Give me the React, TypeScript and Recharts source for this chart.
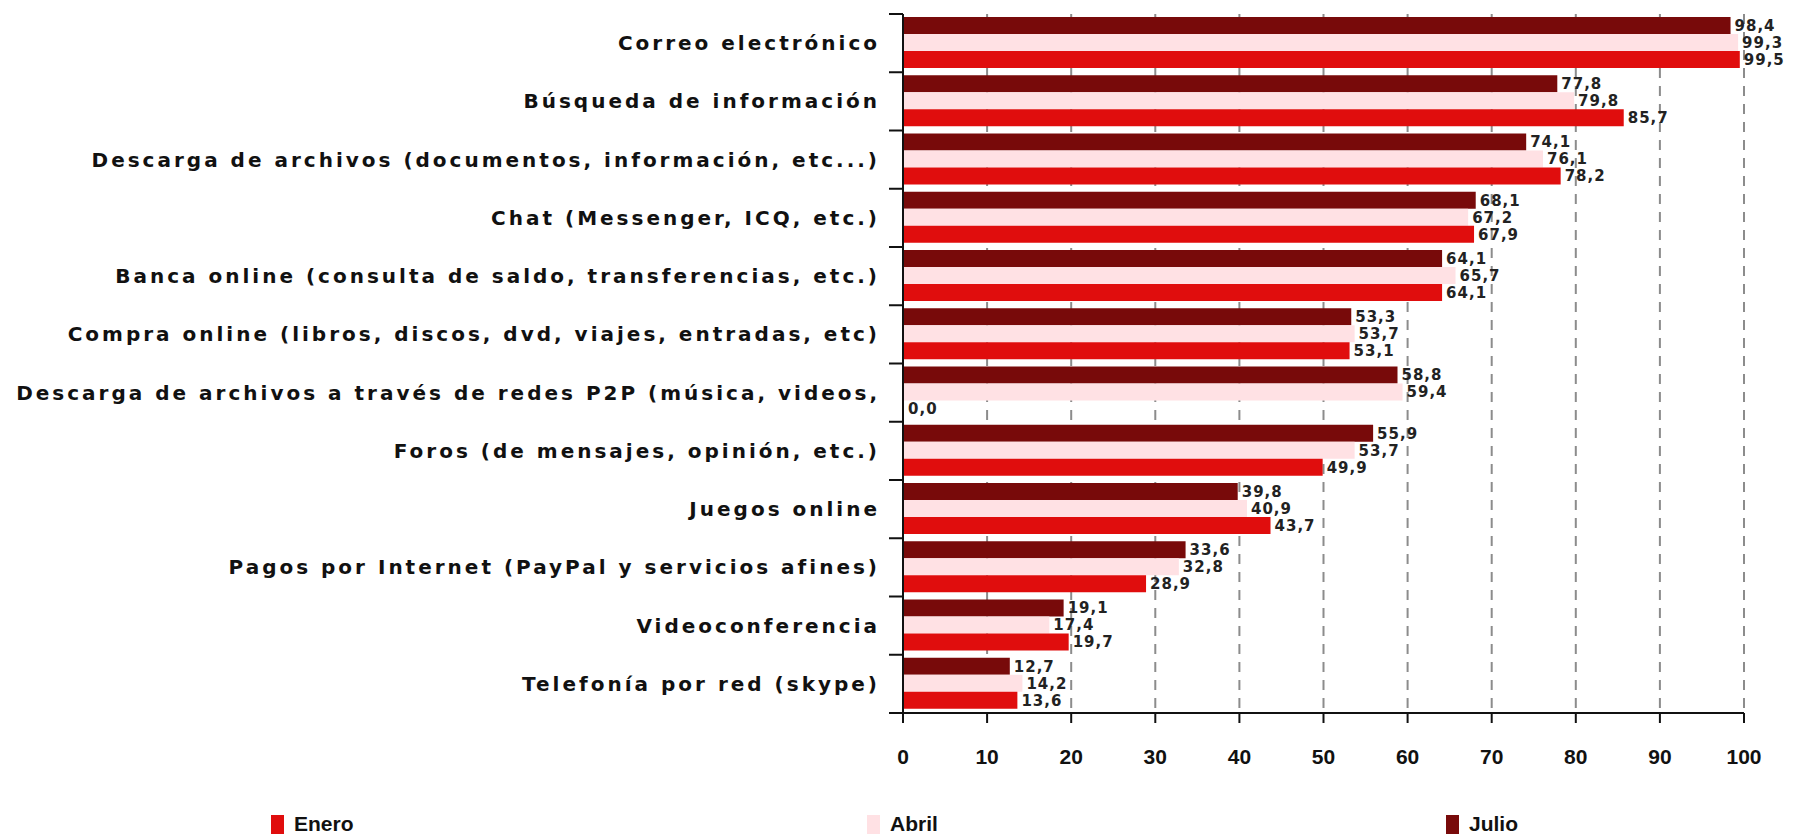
import { BarChart, Bar, XAxis, YAxis, CartesianGrid, LabelList } from "recharts";

const categories = [
  "Correo electrónico",
  "Búsqueda de información",
  "Descarga de archivos (documentos, información, etc...)",
  "Chat (Messenger, ICQ, etc.)",
  "Banca online (consulta de saldo, transferencias, etc.)",
  "Compra online (libros, discos, dvd, viajes, entradas, etc)",
  "Descarga de archivos a través de redes P2P (música, videos,",
  "Foros (de mensajes, opinión, etc.)",
  "Juegos online",
  "Pagos por Internet (PayPal y servicios afines)",
  "Videoconferencia",
  "Telefonía por red (skype)",
];

const julio = [98.4, 77.8, 74.1, 68.1, 64.1, 53.3, 58.8, 55.9, 39.8, 33.6, 19.1, 12.7];
const abril = [99.3, 79.8, 76.1, 67.2, 65.7, 53.7, 59.4, 53.7, 40.9, 32.8, 17.4, 14.2];
const enero = [99.5, 85.7, 78.2, 67.9, 64.1, 53.1, 0.0, 49.9, 43.7, 28.9, 19.7, 13.6];

const xTicks = [0, 10, 20, 30, 40, 50, 60, 70, 80, 90, 100];

const COLORS = { enero: "#e00d0d", abril: "#ffe1e4", julio: "#780a0a" };

const W = 1781;
const H = 800;
const M = { top: 6, right: 45, bottom: 45, left: 0 };
const Y_W = 895;
const X_H = 50;
const band = (H - M.top - M.bottom - X_H) / categories.length;

const data = categories.map((name, i) => ({
  name,
  julio: julio[i],
  abril: abril[i],
  enero: enero[i],
}));

const fmt = (v: any) => Number(v).toFixed(1).replace(".", ",");

function CatTick(props: any) {
  const { x, y, payload, index } = props;
  return (
    <g>
      <text
        x={x - 23}
        y={y}
        textAnchor="end"
        dominantBaseline="central"
        fontFamily="'DejaVu Sans', sans-serif"
        fontWeight="bold"
        fontSize={20}
        letterSpacing={3}
        fill="#111"
      >
        {payload.value}
      </text>
      <line x1={x - 14} x2={x} y1={y - band / 2} y2={y - band / 2} stroke="#111" strokeWidth={2} />
      {index === categories.length - 1 && (
        <line x1={x - 14} x2={x} y1={y + band / 2} y2={y + band / 2} stroke="#111" strokeWidth={2} />
      )}
    </g>
  );
}

const valueLabel = {
  fontFamily: "'DejaVu Sans', sans-serif",
  fontWeight: "bold",
  fontSize: 15,
  letterSpacing: 1,
  fill: "#222",
} as const;

function LegendItem({ color, label, left }: { color: string; label: string; left: number }) {
  return (
    <div style={{ position: "absolute", left, top: 0, display: "flex", alignItems: "center" }}>
      <span style={{ width: 13, height: 19, background: color, display: "inline-block", marginRight: 10 }} />
      <span style={{ fontFamily: "'Liberation Sans', Arial, sans-serif", fontWeight: "bold", fontSize: 21, color: "#111" }}>
        {label}
      </span>
    </div>
  );
}

export default function App() {
  return (
    <div style={{ position: "relative", width: W, height: 826 }}>
      <BarChart
        width={W}
        height={H}
        data={data}
        layout="vertical"
        margin={M}
        barCategoryGap={3}
        barGap={0}
      >
        <CartesianGrid horizontal={false} stroke="#8c8c8c" strokeWidth={2} strokeDasharray="10 8" />
        <XAxis
          type="number"
          domain={[0, 100]}
          ticks={xTicks}
          interval={0}
          height={X_H}
          axisLine={{ stroke: "#111", strokeWidth: 2 }}
          tickLine={{ stroke: "#111", strokeWidth: 2 }}
          tickSize={10}
          tickMargin={26}
          tick={{ fill: "#111", fontSize: 21, fontWeight: "bold", fontFamily: "'Liberation Sans', Arial, sans-serif" }}
        />
        <YAxis
          type="category"
          dataKey="name"
          width={Y_W}
          interval={0}
          tickLine={false}
          tickSize={0}
          tickMargin={0}
          axisLine={{ stroke: "#111", strokeWidth: 2 }}
          tick={<CatTick />}
        />
        <Bar dataKey="julio" name="Julio" fill={COLORS.julio} isAnimationActive={false}>
          <LabelList dataKey="julio" position="right" offset={4} formatter={fmt} style={valueLabel} />
        </Bar>
        <Bar dataKey="abril" name="Abril" fill={COLORS.abril} isAnimationActive={false}>
          <LabelList dataKey="abril" position="right" offset={4} formatter={fmt} style={valueLabel} />
        </Bar>
        <Bar dataKey="enero" name="Enero" fill={COLORS.enero} minPointSize={1} isAnimationActive={false}>
          <LabelList dataKey="enero" position="right" offset={4} formatter={fmt} style={valueLabel} />
        </Bar>
      </BarChart>
      <div style={{ position: "absolute", left: 0, top: H + 4, width: W, height: 22 }}>
        <LegendItem color={COLORS.enero} label="Enero" left={263} />
        <LegendItem color={COLORS.abril} label="Abril" left={859} />
        <LegendItem color={COLORS.julio} label="Julio" left={1438} />
      </div>
    </div>
  );
}
